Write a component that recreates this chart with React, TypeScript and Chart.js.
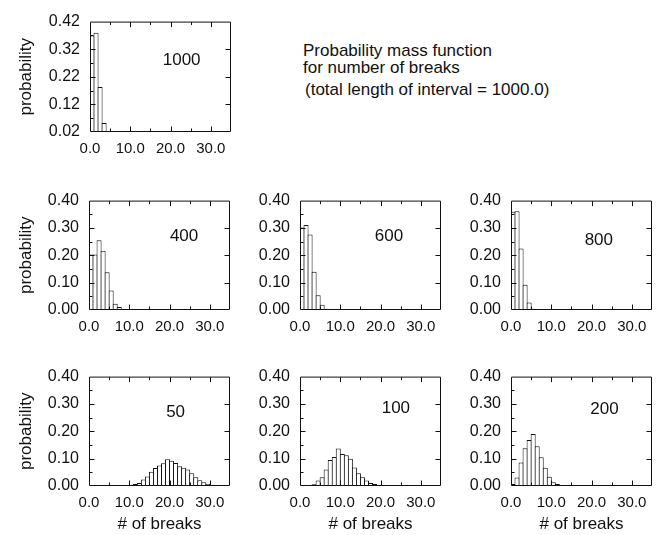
import React, { useEffect, useRef } from "react";
import Chart from "chart.js/auto";

// probability of k breaks, k = 0, 1, 2, ...
const P_1000 = [0.37, 0.38, 0.183, 0.053, 0.012, 0.002];
const P_400 = [0.203, 0.203, 0.255, 0.217, 0.138, 0.071, 0.023, 0.011, 0.003, 0.001];
const P_600 = [0.302, 0.311, 0.276, 0.14, 0.054, 0.019, 0.005, 0.002];
const P_800 = [0.359, 0.361, 0.225, 0.092, 0.027, 0.005, 0.002];
const P_50 = [
  0, 0, 0, 0, 0, 0, 0, 0, 0.001, 0.003, 0.005, 0.007, 0.011, 0.024, 0.035, 0.052,
  0.066, 0.075, 0.083, 0.098, 0.092, 0.084, 0.072, 0.067, 0.06, 0.047, 0.032, 0.021,
  0.014, 0.008, 0.005, 0.003, 0.002,
];
const P_100 = [
  0, 0.001, 0.002, 0.006, 0.02, 0.032, 0.06, 0.095, 0.106, 0.137, 0.117, 0.112, 0.1,
  0.068, 0.047, 0.032, 0.02, 0.011, 0.007, 0.003, 0.002, 0.001,
];
const P_200 = [
  0.007, 0.031, 0.086, 0.138, 0.168, 0.19, 0.145, 0.105, 0.067, 0.034, 0.014, 0.007,
  0.004, 0.002, 0.002, 0.001,
];

const X_TICKS = [0, 10, 20, 30];
const X_MINOR = [5, 15, 25];
const X_RANGE = [0, 35];
const Y_TICKS = [0, 0.1, 0.2, 0.3, 0.4];
const Y_TICKS_TOP = [0.02, 0.12, 0.22, 0.32, 0.42];

const TITLE_LINES = ["Probability mass function", "for number of breaks"];
const SUBTITLE = "(total length of interval = 1000.0)";
const Y_TITLE = "probability";
const X_TITLE = "# of breaks";

const FONT = "'Liberation Sans', Arial, Helvetica, sans-serif";
const INK = "#111111";

type Panel = {
  label: string;
  values: number[];
  yTicks: number[];
  left: number;
  top: number;
  height: number;
  yTitle: boolean;
  xTitle: boolean;
  lx: number;
  ly: number;
};

const PANELS: Panel[] = [
  { label: "1000", values: P_1000, yTicks: Y_TICKS_TOP, left: 90, top: 14, height: 118, yTitle: true, xTitle: false, lx: 22.75, ly: 0.28 },
  { label: "400", values: P_400, yTicks: Y_TICKS, left: 89, top: 193, height: 117, yTitle: true, xTitle: false, lx: 23.6, ly: 0.27 },
  { label: "600", values: P_600, yTicks: Y_TICKS, left: 300, top: 193, height: 117, yTitle: false, xTitle: false, lx: 22.1, ly: 0.27 },
  { label: "800", values: P_800, yTicks: Y_TICKS, left: 511, top: 193, height: 117, yTitle: false, xTitle: false, lx: 21.8, ly: 0.255 },
  { label: "50", values: P_50, yTicks: Y_TICKS, left: 89, top: 369, height: 117, yTitle: true, xTitle: true, lx: 21.5, ly: 0.27 },
  { label: "100", values: P_100, yTicks: Y_TICKS, left: 300, top: 369, height: 117, yTitle: false, xTitle: true, lx: 23.8, ly: 0.284 },
  { label: "200", values: P_200, yTicks: Y_TICKS, left: 511, top: 369, height: 117, yTitle: false, xTitle: true, lx: 23.2, ly: 0.28 },
];

const PLOT_W = 141;
const PAD_T = 12;
const PAD_R = 24;

const decoPlugin = {
  id: "deco",
  afterDraw(chart: any, _args: any, opts: any) {
    const { ctx, chartArea: a, scales } = chart;
    const x = scales.x;
    const y = scales.y;
    ctx.save();
    ctx.strokeStyle = INK;
    ctx.lineWidth = 1;
    ctx.beginPath();
    const L = a.left + 0.5, R = a.right - 0.5, T = a.top + 0.5, B = a.bottom - 0.5;
    ctx.rect(L, T, R - L, B - T);
    const yt: number[] = opts.yTicks;
    for (let i = 0; i < yt.length; i++) {
      const v = yt[i];
      const py = Math.round(y.getPixelForValue(v)) + 0.5;
      if (i > 0 && i < yt.length - 1) {
        ctx.moveTo(L, py); ctx.lineTo(L + 5, py);
        ctx.moveTo(R, py); ctx.lineTo(R - 5, py);
      }
      if (i < yt.length - 1) {
        const pm = Math.round(y.getPixelForValue((v + yt[i + 1]) / 2)) + 0.5;
        ctx.moveTo(L, pm); ctx.lineTo(L + 3, pm);
      }
    }
    for (const v of X_TICKS.concat(X_MINOR)) {
      if (v <= X_RANGE[0]) continue;
      const len = X_TICKS.includes(v) ? 5 : 3;
      const px = Math.round(x.getPixelForValue(v)) + 0.5;
      ctx.moveTo(px, T); ctx.lineTo(px, T + len);
      ctx.moveTo(px, B); ctx.lineTo(px, B - len);
    }
    ctx.stroke();
    ctx.fillStyle = INK;
    ctx.font = `17px ${FONT}`;
    ctx.textAlign = "center";
    ctx.textBaseline = "middle";
    ctx.fillText(opts.label, x.getPixelForValue(opts.lx), y.getPixelForValue(opts.ly));
    ctx.restore();
  },
};

function PanelChart({ p }: { p: Panel }) {
  const ref = useRef<HTMLCanvasElement>(null);
  const yw = p.yTitle ? p.left : 60;
  const xh = p.xTitle ? 49 : 30;
  const W = yw + PLOT_W + PAD_R;
  const H = PAD_T + p.height + xh;

  useEffect(() => {
    if (!ref.current) return;
    const yMin = p.yTicks[0];
    const yMax = p.yTicks[p.yTicks.length - 1];
    const chart = new Chart(ref.current, {
      type: "bar",
      data: {
        datasets: [
          {
            data: p.values.map((v, k) => ({ x: k + 0.5, y: v })),
            backgroundColor: "#ffffff",
            borderColor: INK,
            borderWidth: 1,
            barPercentage: 1.248,
            categoryPercentage: 1,
            inflateAmount: 0,
            clip: 0,
          } as any,
        ],
      },
      options: {
        responsive: false,
        animation: false,
        devicePixelRatio: 1,
        layout: { padding: { top: PAD_T, right: PAD_R, left: 0, bottom: 0 } },
        plugins: {
          legend: { display: false },
          tooltip: { enabled: false },
          deco: { label: p.label, lx: p.lx, ly: p.ly, yTicks: p.yTicks },
        } as any,
        scales: {
          x: {
            type: "linear",
            min: X_RANGE[0],
            max: X_RANGE[1],
            offset: false,
            grid: { display: false, drawTicks: false, offset: false },
            border: { display: false },
            afterBuildTicks: (s: any) => {
              s.ticks = X_TICKS.map((v) => ({ value: v }));
            },
            afterFit: (s: any) => {
              s.height = xh;
            },
            ticks: {
              autoSkip: false,
              maxRotation: 0,
              padding: 8,
              color: INK,
              font: { family: FONT, size: 15 },
              callback: (v: any) => Number(v).toFixed(1),
            },
            title: {
              display: p.xTitle,
              text: X_TITLE,
              color: INK,
              font: { family: FONT, size: 17 },
              padding: { top: 0, bottom: 0 },
            },
          },
          y: {
            type: "linear",
            min: yMin,
            max: yMax,
            grid: { display: false, drawTicks: false },
            border: { display: false },
            afterBuildTicks: (s: any) => {
              s.ticks = p.yTicks.map((v) => ({ value: v }));
            },
            afterFit: (s: any) => {
              s.width = yw;
            },
            ticks: {
              autoSkip: false,
              padding: 10,
              color: INK,
              font: { family: FONT, size: 16 },
              callback: (v: any) => Number(v).toFixed(2),
            },
            title: {
              display: p.yTitle,
              text: Y_TITLE,
              color: INK,
              font: { family: FONT, size: 17 },
              padding: { top: 16, bottom: 0 },
            },
          },
        },
      },
      plugins: [decoPlugin as any],
    });
    return () => chart.destroy();
  }, [p, xh, yw]);

  return (
    <canvas
      ref={ref}
      width={W}
      height={H}
      style={{
        position: "absolute",
        left: p.left - yw,
        top: p.top - PAD_T,
        width: W,
        height: H,
      }}
    />
  );
}

export default function App() {
  const textStyle: React.CSSProperties = {
    position: "absolute",
    left: 303,
    fontFamily: FONT,
    fontSize: 17,
    lineHeight: "20px",
    color: INK,
    whiteSpace: "nowrap",
  };
  return (
    <div
      style={{
        position: "absolute",
        left: 0,
        top: 0,
        width: 660,
        height: 535,
        background: "#ffffff",
        overflow: "hidden",
      }}
    >
      {PANELS.map((p) => (
        <PanelChart key={p.label} p={p} />
      ))}
      <div style={{ ...textStyle, top: 41 }}>{TITLE_LINES[0]}</div>
      <div style={{ ...textStyle, top: 58 }}>{TITLE_LINES[1]}</div>
      <div style={{ ...textStyle, top: 80, left: 305 }}>{SUBTITLE}</div>
    </div>
  );
}
